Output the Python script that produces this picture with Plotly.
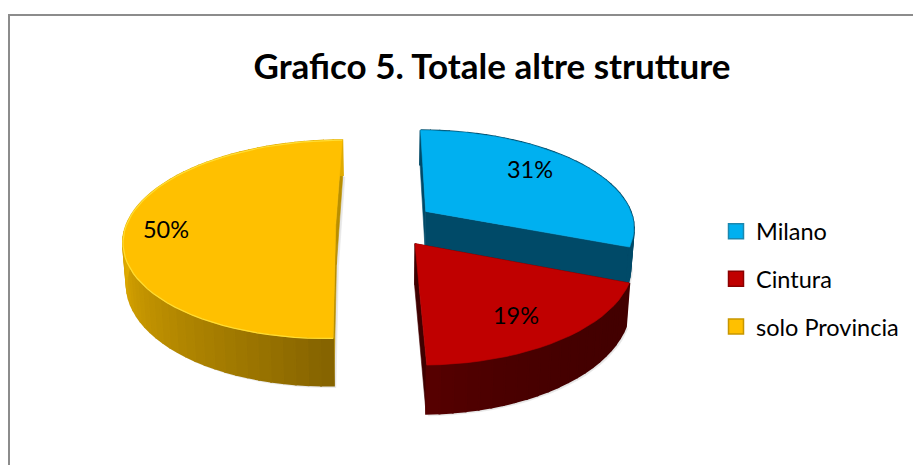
import math
import plotly.graph_objects as go

# ---- data ----
TITLE = "Grafico 5. Totale altre strutture"
categories = ["Milano", "Cintura", "solo Provincia"]
values = [30.9, 18.7, 50.4]

# ---- styles ----
top_colors = ["#00B0F0", "#C00000", "#FFC000"]
wall_colors = ["#004A68", "#3F0000", "#B98F00"]
legend_edges = ["#1C87AE", "#8A0000", "#C79600"]
FONT = "Lato"

# ---- 3D pie projection (pixel-based axes) ----
VX, Y0 = 385.5, 224.2
RX, KY, P = 209.0, 96.8, 0.15
EXPLODE = 0.238
DEPTH = 40.0
BOTTOM_X = 0.986


def project(wx, wy, low=False):
    f = 1 / (1 - P * wy)
    x = wx * RX * f
    y = KY * wy * f
    if low:
        return VX + x * BOTTOM_X, Y0 + y + DEPTH * f
    return VX + x, Y0 + y


def slice_points(a0, a1, step=3.0):
    n = max(2, int((a1 - a0) / step))
    return [a0 + (a1 - a0) * i / n for i in range(n + 1)]


def poly(xs, ys, color, opacity=1.0, width=0.6):
    return go.Scatter(x=xs + xs[:1], y=ys + ys[:1], mode="lines", fill="toself",
                      fillcolor=color, line=dict(color=color, width=width), opacity=opacity,
                      hoverinfo="skip", showlegend=False)


def mix(c1, c2, t):
    a = [int(c1[i:i + 2], 16) for i in (1, 3, 5)]
    b = [int(c2[i:i + 2], 16) for i in (1, 3, 5)]
    return "#%02x%02x%02x" % tuple(round(p + (q - p) * t) for p, q in zip(a, b))


def side_color(i, t):
    if i == 0:
        return "#004A68"
    if i == 1:
        u = (t - 110) / 70
        return mix("#430000", "#5A0000", max(0.0, u) ** 3)
    u = min(1, max(0, (t - 180) / 85))
    return mix("#866400", "#E0AB00", u ** 0.9)


fig = go.Figure()
total = sum(values)
bounds = [0]
for v in values:
    bounds.append(bounds[-1] + v / total * 360)

# paint order: yellow at the back-left, then blue, then red in front
for i in (2, 0, 1):
    a0, a1 = bounds[i], bounds[i + 1]
    mid = math.radians((a0 + a1) / 2)
    ox, oy = EXPLODE * math.sin(mid), -EXPLODE * math.cos(mid)
    angles = slice_points(a0, a1)
    rim = [(ox + math.sin(math.radians(t)), oy - math.cos(math.radians(t))) for t in angles]

    top = [project(*p) for p in rim]
    low = [project(*p, low=True) for p in rim]
    apex_t = project(ox, oy)
    apex_b = project(ox, oy, low=True)

    # soft shadow around the solid
    sx = [p[0] + 2 for p in low] + [apex_b[0] + 2]
    sy = [p[1] + 2 for p in low] + [apex_b[1] + 2]
    fig.add_trace(poly(sx, sy, "#B0B0B0", 0.3))

    # inner walls
    for end in (0, -1):
        fig.add_trace(poly([apex_t[0], top[end][0], low[end][0], apex_b[0]],
                           [apex_t[1], top[end][1], low[end][1], apex_b[1]], wall_colors[i]))
    # outer side, shaded strip by strip
    for k in range(len(rim) - 1):
        fig.add_trace(poly([top[k][0], top[k + 1][0], low[k + 1][0], low[k][0]],
                           [top[k][1], top[k + 1][1], low[k + 1][1], low[k][1]],
                           side_color(i, angles[k]), width=2))
    # top face
    fig.add_trace(poly([apex_t[0]] + [p[0] for p in top], [apex_t[1]] + [p[1] for p in top], top_colors[i]))
    if i == 2:
        fig.add_trace(go.Scatter(x=[p[0] for p in top], y=[p[1] for p in top], mode="lines",
                                 line=dict(color="#FFDD33", width=1.2), hoverinfo="skip", showlegend=False))

# value labels
label_x = [530, 516, 166]
label_y = [172, 318, 232]
fig.add_trace(go.Scatter(x=label_x, y=label_y, mode="text",
                         text=[f"{round(v)}%" for v in values],
                         textfont=dict(family=FONT, size=23.5, color="#000000"),
                         hoverinfo="skip", showlegend=False))

# legend entries
for name, col, edge in zip(categories, top_colors, legend_edges):
    fig.add_trace(go.Scatter(x=[None], y=[None], mode="markers", name=name, legendgroup=name,
                             marker=dict(symbol="square", size=15, color=col, line=dict(color=edge, width=1.5))))

fig.update_layout(
    width=913, height=465, margin=dict(l=0, r=0, t=0, b=0),
    paper_bgcolor="#FFFFFF", plot_bgcolor="#FFFFFF",
    xaxis=dict(range=[0, 913], visible=False, fixedrange=True),
    yaxis=dict(range=[465, 0], visible=False, fixedrange=True),
    title=dict(text=f"<b>{TITLE}</b>", x=492 / 913, xanchor="center", y=1 - 67 / 465, yanchor="middle",
               font=dict(family=FONT, size=35, color="#000000")),
    legend=dict(x=716 / 913, y=1 - 279 / 465, xanchor="left", yanchor="middle", tracegroupgap=14,
                font=dict(family=FONT, size=23.5, color="#000000"), bgcolor="rgba(0,0,0,0)"),
    shapes=[
        dict(type="line", xref="x", yref="y", x0=9, x1=9, y0=14, y1=465, line=dict(color="#8C8C8C", width=2)),
        dict(type="line", xref="x", yref="y", x0=8, x1=913, y0=15, y1=15, line=dict(color="#8C8C8C", width=2)),
    ],
)

fig.write_html("out.html", config={"displayModeBar": False},
               post_script="document.body.style.margin='0';")
